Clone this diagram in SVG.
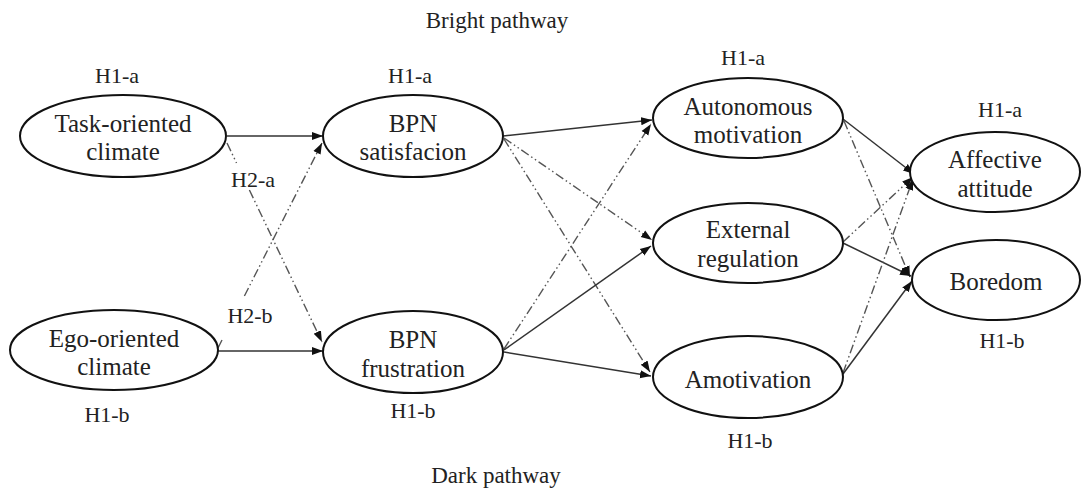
<svg xmlns="http://www.w3.org/2000/svg" width="1081" height="495" viewBox="0 0 1081 495">
<style>
  .node ellipse { fill: #fff; stroke: #111; stroke-width: 2; }
  .node text { font-family: "Liberation Serif", "Times New Roman", serif; font-size: 25px; fill: #222; text-anchor: middle; }
  .node text.lbl, text.lbl { font-family: "Liberation Serif", "Times New Roman", serif; font-size: 22px; fill: #222; text-anchor: middle; }
  .title { font-family: "Liberation Serif", "Times New Roman", serif; font-size: 23px; fill: #222; text-anchor: middle; }
  .solid { fill: none; stroke: #333; stroke-width: 1.5; }
  .dash { fill: none; stroke: #555; stroke-width: 1.4; stroke-dasharray: 9 3 1.5 3 1.5 3; }
</style>
<defs>
  <marker id="arr" markerUnits="userSpaceOnUse" markerWidth="12" markerHeight="10" refX="11" refY="5" orient="auto">
    <path d="M0,1 L11,5 L0,9 Z" fill="#111"/>
  </marker>
</defs>
<rect width="1081" height="495" fill="#fff"/>

<text class="title" x="497" y="28">Bright pathway</text>
<text class="title" x="496" y="483">Dark pathway</text>

<g id="connectors">
  <path class="solid" d="M227,136 L323,136" marker-end="url(#arr)"/>
  <path class="solid" d="M218,351 L323,351" marker-end="url(#arr)"/>
  <path class="dash" d="M227,143 L236.5,163"/>
  <path class="dash" d="M249.4,190 L322,342" marker-end="url(#arr)"/>
  <path class="dash" d="M218,348 L223,338"/>
  <path class="dash" d="M244.4,296 L322,143" marker-end="url(#arr)"/>

  <path class="solid" d="M503,136 L652,120" marker-end="url(#arr)"/>
  <path class="dash" d="M504,138 L652,240" marker-end="url(#arr)"/>
  <path class="dash" d="M504,139 L650,372" marker-end="url(#arr)"/>
  <path class="dash" d="M504,349 L651,124" marker-end="url(#arr)"/>
  <path class="solid" d="M504,350 L651,246" marker-end="url(#arr)"/>
  <path class="solid" d="M504,352 L651,376" marker-end="url(#arr)"/>

  <path class="solid" d="M843,119 L914,174" marker-end="url(#arr)"/>
  <path class="dash" d="M844,121 L910,277" marker-end="url(#arr)"/>
  <path class="dash" d="M843,242 L913,177" marker-end="url(#arr)"/>
  <path class="solid" d="M843,243 L911,276" marker-end="url(#arr)"/>
  <path class="dash" d="M843,373 L913,179" marker-end="url(#arr)"/>
  <path class="solid" d="M843,374 L912,281" marker-end="url(#arr)"/>
</g>

<text class="lbl" x="253" y="187">H2-a</text>
<text class="lbl" x="250" y="323">H2-b</text>

<g id="task" class="node">
  <ellipse cx="123" cy="136" rx="103" ry="41"/>
  <text x="123" y="132">Task-oriented</text>
  <text x="123" y="160">climate</text>
  <text class="lbl" x="117" y="83">H1-a</text>
</g>
<g id="ego" class="node">
  <ellipse cx="114" cy="350" rx="104" ry="40"/>
  <text x="114" y="347">Ego-oriented</text>
  <text x="114" y="375">climate</text>
  <text class="lbl" x="107" y="422">H1-b</text>
</g>
<g id="bpnsat" class="node">
  <ellipse cx="413" cy="136" rx="90" ry="41"/>
  <text x="413" y="132">BPN</text>
  <text x="413" y="160">satisfacion</text>
  <text class="lbl" x="410" y="83">H1-a</text>
</g>
<g id="bpnfrus" class="node">
  <ellipse cx="413" cy="352" rx="90" ry="41"/>
  <text x="413" y="348">BPN</text>
  <text x="413" y="377">frustration</text>
  <text class="lbl" x="413" y="418">H1-b</text>
</g>
<g id="auto" class="node">
  <ellipse cx="748" cy="118" rx="95" ry="40"/>
  <text x="748" y="115">Autonomous</text>
  <text x="748" y="143">motivation</text>
  <text class="lbl" x="743" y="65">H1-a</text>
</g>
<g id="ext" class="node">
  <ellipse cx="748" cy="243" rx="95" ry="40"/>
  <text x="748" y="238">External</text>
  <text x="748" y="267">regulation</text>
</g>
<g id="amot" class="node">
  <ellipse cx="748" cy="377" rx="95" ry="41"/>
  <text x="748" y="388">Amotivation</text>
  <text class="lbl" x="750" y="448">H1-b</text>
</g>
<g id="aff" class="node">
  <ellipse cx="995" cy="172" rx="85" ry="40"/>
  <text x="995" y="168">Affective</text>
  <text x="995" y="197">attitude</text>
  <text class="lbl" x="1000" y="117">H1-a</text>
</g>
<g id="bor" class="node">
  <ellipse cx="996" cy="280" rx="84" ry="40"/>
  <text x="996" y="290">Boredom</text>
  <text class="lbl" x="1002" y="348">H1-b</text>
</g>
</svg>
